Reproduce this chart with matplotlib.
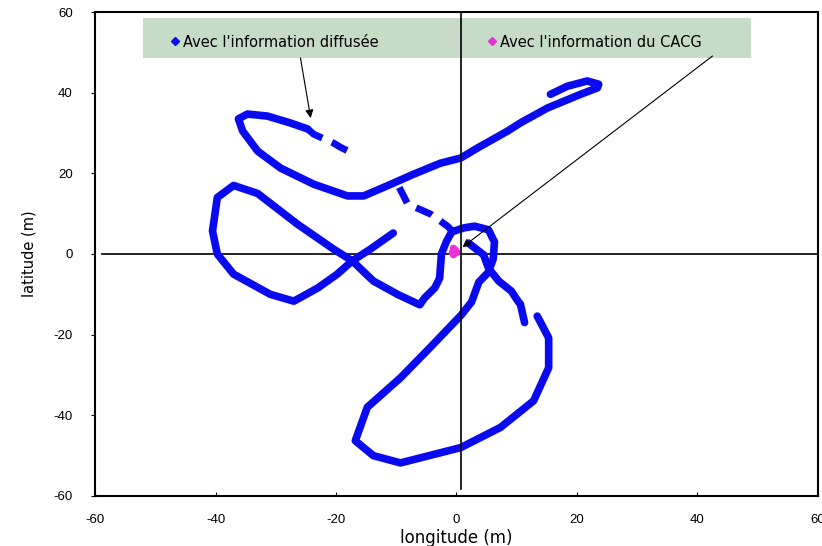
import matplotlib.pyplot as plt
from matplotlib.lines import Line2D
from matplotlib.patches import Rectangle

plt.rcParams['font.family'] = ['Liberation Sans', 'DejaVu Sans']
plt.rcParams['axes.unicode_minus'] = False

# trajectory pieces (longitude, latitude in m)
upper_x = [-24.7, -27.6, -31.4, -34.7, -36.2, -35.5, -33.0, -29.2, -23.7, -18.1,
           -15.4, -11.5, -7.1, -2.7, 0.7, 3.5, 8.5, 10.6, 15.1, 20.6,
           23.4, 23.6, 21.7, 18.4, 15.6]
upper_y = [31.0, 32.5, 34.2, 34.7, 33.5, 30.5, 25.5, 21.3, 17.3, 14.4,
           14.4, 16.9, 19.8, 22.5, 23.8, 26.3, 30.5, 32.5, 36.2, 39.6,
           41.2, 42.1, 42.9, 41.6, 39.6]

gap1_x = [-24.7, -23.7, -20.4, -19.3, -17.3]
gap1_y = [31.0, 29.7, 27.5, 26.5, 25.0]

gap2_x = [-9.5, -8.1, -4.3, -1.5, -0.7]
gap2_y = [16.5, 12.4, 9.9, 6.9, 5.7]

main_x = [-10.5, -14.3, -17.3, -19.8, -23.0, -27.0, -30.9, -37.0, -39.7, -40.5,
          -39.7, -37.0, -33.0, -26.4, -20.4, -17.3, -13.8, -9.8, -6.1, -5.3,
          -3.6, -2.8, -2.5, -1.7, -0.8, 1.3, 3.0, 5.3, 6.3, 6.1,
          5.3, 3.7, 2.5, 0.8, -3.8, -9.3, -14.8, -16.8, -13.8, -9.3,
          0.7, 7.3, 12.8, 15.3, 15.3, 13.4]
main_y = [5.2, 1.2, -1.7, -5.0, -8.4, -11.7, -10.0, -5.0, 0.0, 5.7,
          14.0, 17.0, 15.0, 7.4, 1.2, -1.7, -6.7, -10.0, -12.6, -10.9,
          -8.4, -6.0, 0.0, 3.0, 5.5, 6.5, 6.9, 6.0, 3.0, -1.2,
          -4.5, -7.0, -11.9, -15.1, -22.3, -30.7, -38.0, -46.3, -50.0, -51.8,
          -48.0, -43.0, -36.4, -28.2, -20.8, -15.4]

branch_x = [2.0, 4.5, 5.3, 7.0, 9.1, 10.3, 10.6, 11.3]
branch_y = [2.7, -0.2, -3.5, -6.7, -9.2, -11.9, -12.4, -17.0]

cacg_x = [-0.8, -0.3, -0.5, 0.0, -0.6]
cacg_y = [0.5, 1.0, 0.0, 0.6, 1.4]

ticks = [-60, -40, -20, 0, 20, 40, 60]
labels = ["Avec l'information diffusée", "Avec l'information du CACG"]

blue = '#0a0af0'
pink = '#e830d8'
wide = ['DejaVu Sans']

fig = plt.figure(figsize=(8.22, 5.46), dpi=100)
ax = fig.add_axes([0.1156, 0.0916, 0.8795, 0.8864])

ax.axhline(0, xmin=0.01, color='black', lw=1.2, zorder=1)
ax.axvline(0.8, ymin=0.015, color='black', lw=1.2, zorder=6)

style = dict(color=blue, lw=5.5, solid_capstyle='round', solid_joinstyle='round', zorder=2)
ax.plot(upper_x, upper_y, **style)
ax.plot(main_x, main_y, **style)
ax.plot(branch_x, branch_y, **style)
ax.plot(gap1_x, gap1_y, color=blue, lw=5, dashes=(2.5, 1.5), zorder=2)
ax.plot(gap2_x, gap2_y, color=blue, lw=5, dashes=(2.5, 1.5), zorder=2)
ax.scatter(cacg_x, cacg_y, color=pink, s=30, marker='o', zorder=3, linewidths=0)

# legend band
ax.add_patch(Rectangle((0.0665, 0.905), 0.8407, 0.083, transform=ax.transAxes,
                       facecolor='#c6dcc6', edgecolor='none', zorder=4))
leg_opts = dict(frameon=False, handlelength=0.6, handletextpad=0.25,
                borderpad=0, borderaxespad=0, loc='center left',
                prop={'family': wide, 'size': 10.5})
h1 = Line2D([], [], color=blue, marker='D', ls='none', markersize=4)
h2 = Line2D([], [], color=pink, marker='D', ls='none', markersize=4)
leg1 = ax.legend([h1], [labels[0]], bbox_to_anchor=(0.104, 0.938), **leg_opts)
leg1.set_zorder(5)
ax.add_artist(leg1)
leg2 = ax.legend([h2], [labels[1]], bbox_to_anchor=(0.543, 0.938), **leg_opts)
leg2.set_zorder(5)

arrow = dict(arrowstyle='-|>', color='black', lw=0.8, mutation_scale=12,
             shrinkA=0, shrinkB=0)
ax.annotate('', xy=(-24.2, 33.7), xytext=(-25.9, 48.6), arrowprops=arrow, zorder=7)
ax.annotate('', xy=(1.0, 1.7), xytext=(42.5, 49.1), arrowprops=arrow, zorder=7)

ax.set_xlim(-60, 60)
ax.set_ylim(-60, 60)
ax.set_xticks(ticks)
ax.set_yticks(ticks)
ax.tick_params(axis='x', direction='in', length=3, pad=13, labelsize=9.5)
ax.tick_params(axis='y', direction='out', length=3, pad=13, labelsize=9.5)
for s in ax.spines.values():
    s.set_linewidth(1.5)

ax.set_xlabel('longitude (m)', fontsize=12, family=wide, labelpad=2)
ax.set_ylabel('latitude (m)', fontsize=10.5, family=wide, labelpad=12)

fig.savefig('out.png', dpi=100)
